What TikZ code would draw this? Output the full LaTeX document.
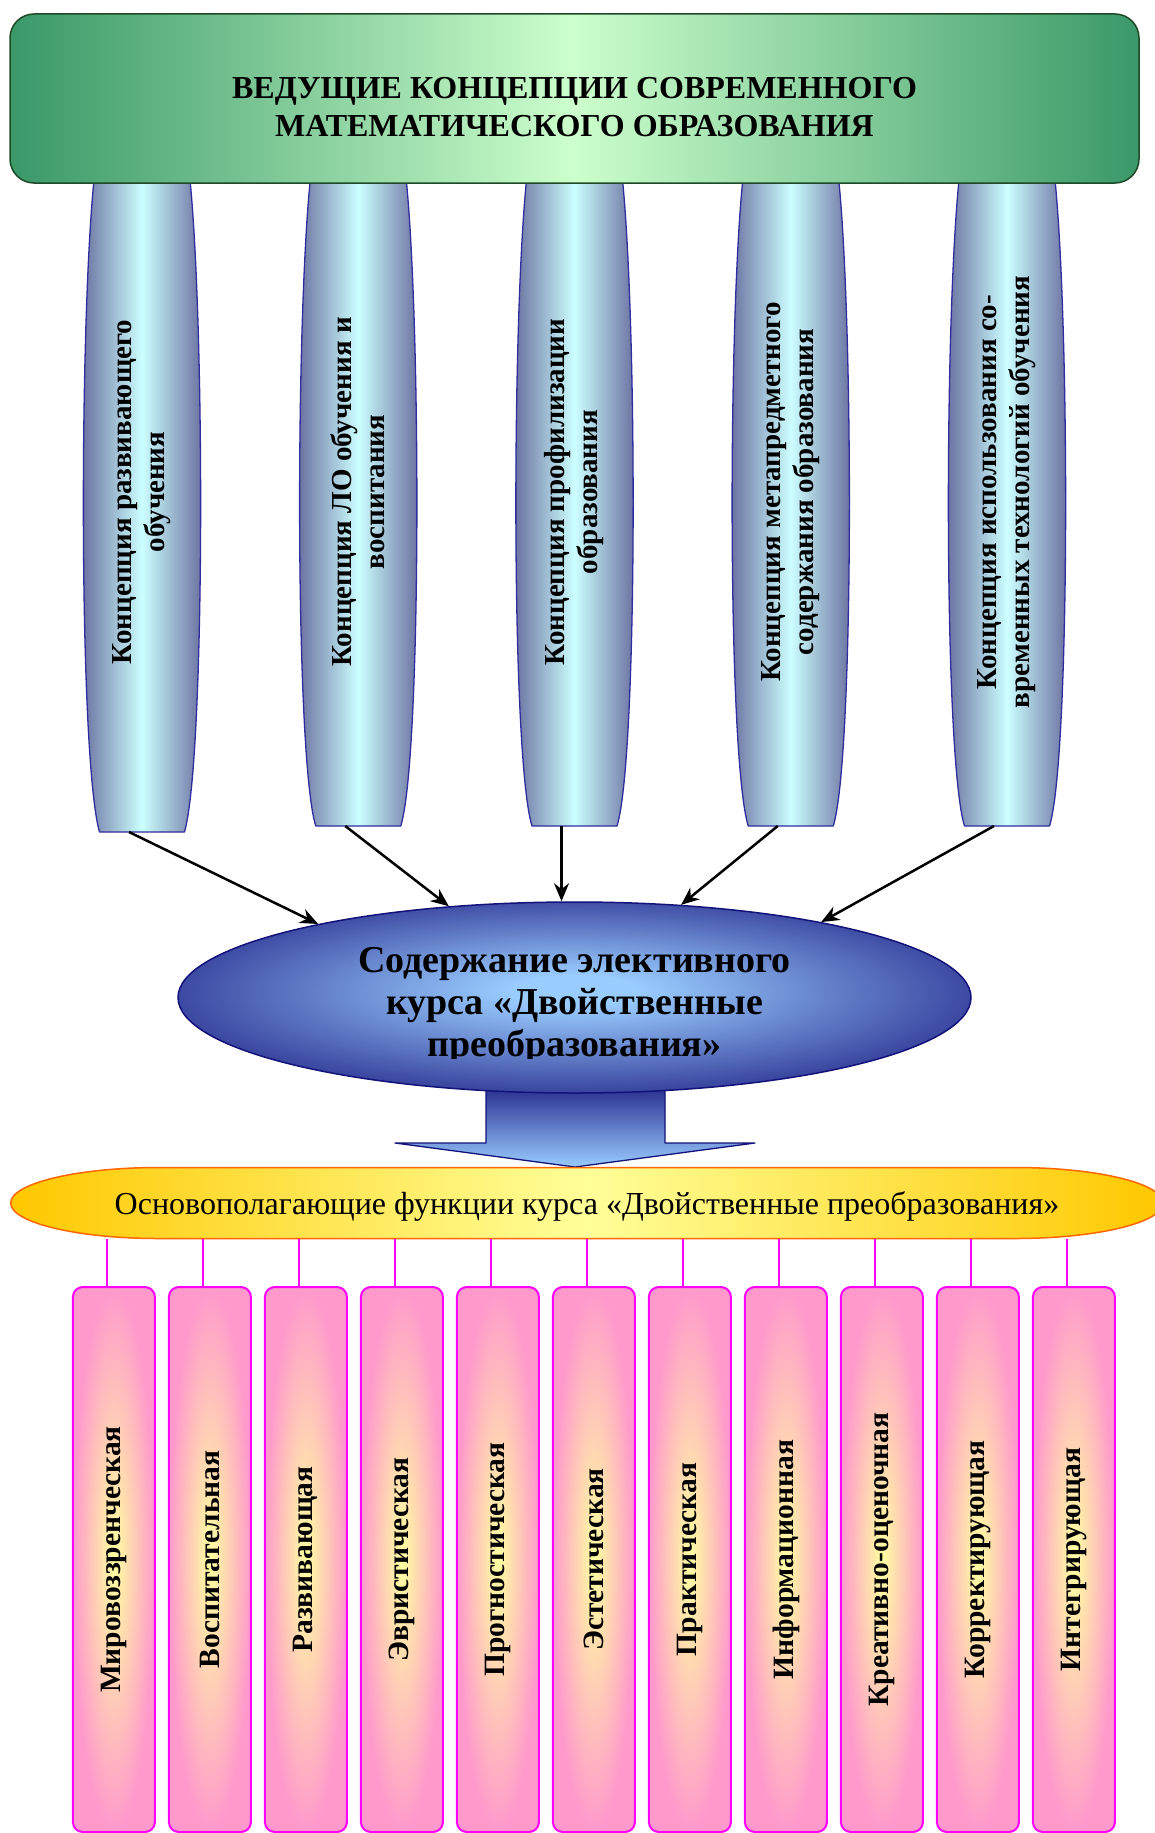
\documentclass[tikz,border=0pt]{standalone}
\usepackage{fontspec}
\setmainfont{Liberation Serif}
\usetikzlibrary{arrows.meta,shapes.geometric}
\definecolor{headdark}{HTML}{3A9868}
\definecolor{headlight}{HTML}{CCFFCC}
\definecolor{headline}{HTML}{1E4A28}
\definecolor{pillardark}{HTML}{666A9C}
\definecolor{pillarlight}{HTML}{CCFFFF}
\definecolor{pillarline}{HTML}{2E2E9E}
\definecolor{navy}{HTML}{12127A}
\definecolor{ovaldark}{HTML}{262A8C}
\definecolor{ovallight}{HTML}{99CCFF}
\definecolor{bannerdark}{HTML}{FFC800}
\definecolor{bannerlight}{HTML}{FFFF99}
\definecolor{bannerline}{HTML}{FF6600}
\definecolor{funcpink}{HTML}{FF99CC}
\definecolor{funcyellow}{HTML}{FFFFA0}
\definecolor{funcline}{HTML}{FF00FF}
\pgfdeclareradialshading{ovalshade}{\pgfpoint{0bp}{2bp}}{color(0bp)=(ovallight); color(4bp)=(ovallight); color(30bp)=(ovaldark); color(50bp)=(ovaldark)}
\begin{document}
\begin{tikzpicture}[x=1pt,y=-1pt,line join=round,>={Stealth[length=18pt,width=15pt]}]
\useasboundingbox (0,0) rectangle (1155,1833);
\tikzset{
  pillartext/.style={rotate=90,align=center,font=\bfseries\fontsize{29}{33}\selectfont},
  funcbox/.style={draw=funcline,line width=2pt,rounded corners=10pt,inner color=funcyellow,outer color=funcpink,
    minimum width=82pt,minimum height=545pt,inner sep=0pt,font=\bfseries\fontsize{29.5}{32}\selectfont}
}
\foreach \i/\txt in {0/{Концепция развивающего\\обучения},1/{Концепция ЛО обучения и\\воспитания},
  2/{Концепция профилизации\\образования},3/{Концепция метапредметного\\содержания образования},
  4/{Концепция использования со-\\временных технологий обучения}}{
  \pgfmathsetmacro\pcx{142+216.25*\i}
  \pgfmathsetmacro\pbot{\i==0 ? 832 : 826}
  \draw[pillarline,line width=1.3pt,left color=pillardark,right color=pillardark,middle color=pillarlight]
    (\pcx-48,180) .. controls (\pcx-63,330) and (\pcx-63,760) .. (\pcx-42.5,\pbot) -- (\pcx+42.5,\pbot)
    .. controls (\pcx+63,760) and (\pcx+63,330) .. (\pcx+48,180);
  \coordinate (p\i) at (\pcx-13,\pbot);
  \node[pillartext] (t\i) at (\pcx,492) {\txt};
}
\node[draw=headline,line width=1.5pt,rounded corners=24pt,left color=headdark,right color=headdark,
  middle color=headlight,minimum width=1129pt,minimum height=169pt] (head) at (574.5,98.5) {};
\node[font=\bfseries\fontsize{32}{37.4}\selectfont,align=center] (headtext) at (574.5,107)
  {ВЕДУЩИЕ КОНЦЕПЦИИ СОВРЕМЕННОГО\\МАТЕМАТИЧЕСКОГО ОБРАЗОВАНИЯ};
\draw[navy,line width=1.3pt,top color=ovaldark,bottom color=ovallight]
  (486,1085) -- (486,1143) -- (395,1143) -- (575,1167) -- (755,1143) -- (665,1143) -- (665,1085);
\node[ellipse,draw=navy,line width=1.5pt,shading=ovalshade,minimum width=793pt,minimum height=191pt,
  inner sep=0pt] (oval) at (574.5,997.5) {};
\begin{scope}
  \clip (170,930) rectangle (980,1058);
  \node[font=\bfseries\fontsize{38}{42}\selectfont,align=center] (ovaltext) at (574.5,1006)
    {Содержание элективного\\курса «Двойственные\\преобразования»};
\end{scope}
\foreach \i/\a in {0/164.7,1/144.6,3/41.1,4/17}
  \draw[->,line width=2.5pt] (p\i) -- (oval.\a);
\draw[->,line width=2.5pt] (p2) -- (p2 |- oval.north);
\draw[bannerline,line width=1.5pt,left color=bannerdark,right color=bannerdark,middle color=bannerlight]
  (10.7,1203) .. controls (10.7,1183.4) and (77,1167.5) .. (158.7,1167.5) -- (1015,1167.5)
  .. controls (1096.7,1167.5) and (1163,1183.4) .. (1163,1203) .. controls (1163,1222.6) and (1096.7,1238.5) .. (1015,1238.5)
  -- (158.7,1238.5) .. controls (77,1238.5) and (10.7,1222.6) .. (10.7,1203) -- cycle;
\node[font=\fontsize{32}{36}\selectfont,minimum height=71pt,inner sep=0pt,text height=28pt,text depth=5pt] (banner)
  at (587,1203) {Основополагающие функции курса «Двойственные преобразования»};
\foreach \txt [count=\i from 0] in {Мировоззренческая,Воспитательная,Развивающая,Эвристическая,Прогностическая,
  Эстетическая,Практическая,Информационная,Креативно-оценочная,Корректирующая,Интегрирующая}{
  \node[funcbox] (f\i) at (113.9+96*\i,1559.5) {\rotatebox{90}{\txt}};
  \draw[funcline,line width=2pt] ([xshift=-6.5pt]f\i.north) -- ([xshift=-6.5pt]f\i.north |- banner.south);
}
\end{tikzpicture}
\end{document}
